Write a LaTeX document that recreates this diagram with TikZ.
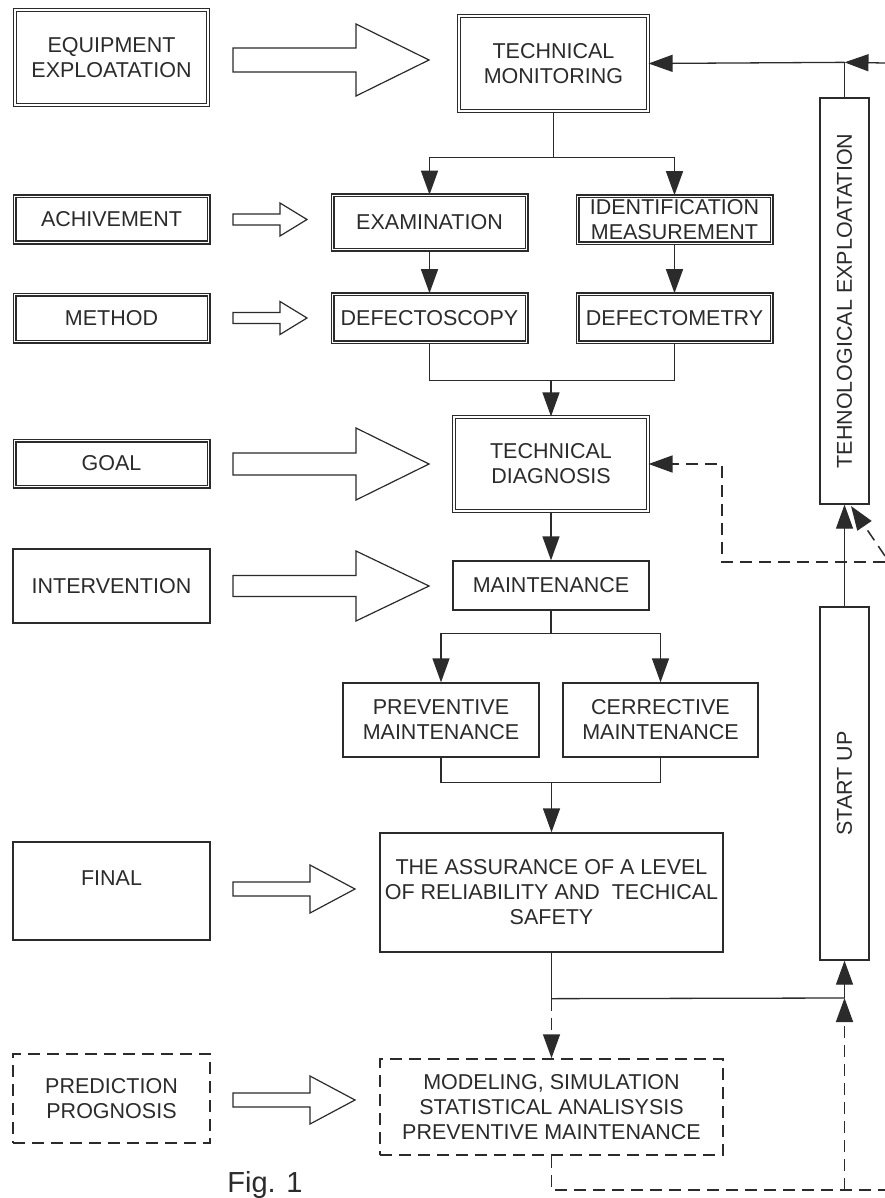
\documentclass[tikz,border=0pt]{standalone}
\usepackage{fontspec}
\setmainfont{Liberation Sans}
\usetikzlibrary{arrows.meta}

\definecolor{ink}{gray}{0.17}

\tikzset{
  box/.style={draw=ink, text=ink, line width=1.3pt, align=center, inner sep=0pt,
    font=\fontsize{21.5}{25}\selectfont},
  thinbox/.style={box},
  heavybox/.style={box, double, double distance=0.8pt, line width=1.6pt},
  dblbox/.style={box, double, double distance=2.6pt, line width=1.1pt},
  dashbox/.style={box, line width=1.5pt, dash pattern=on 12pt off 7pt},
  link/.style={draw=ink, line width=1.3pt},
  dlink/.style={link, line width=1.5pt, dash pattern=on 12pt off 7pt},
  blockarrow/.style={draw=ink, line width=1.2pt, line join=miter},
}

\begin{document}
\begin{tikzpicture}[>={Triangle[length=24pt,width=17pt]},x=1pt,y=-1pt]
\fill[white] (0,0) rectangle (885,1198);
\useasboundingbox (0,0) rectangle (885,1198);

% left column
\node[dblbox, minimum width=193pt, minimum height=95pt] (equip) at (111.5,57.5) {EQUIPMENT\\EXPLOATATION};
\node[heavybox, minimum width=194pt, minimum height=46pt] (achiv) at (111.5,219.5) {ACHIVEMENT};
\node[heavybox, minimum width=194pt, minimum height=47pt] (method) at (111.5,318) {METHOD};
\node[heavybox, minimum width=194pt, minimum height=46pt] (goal) at (111.5,463.5) {GOAL};
\node[thinbox, minimum width=197pt, minimum height=74pt] (interv) at (111.5,586) {INTERVENTION};
\node[thinbox, minimum width=197pt, minimum height=98pt, text depth=26pt] (final) at (111.5,891) {FINAL};
\node[dashbox, minimum width=197pt, minimum height=89pt] (pred) at (111.5,1098.5) {PREDICTION\\PROGNOSIS};
\node[text=ink, font=\fontsize{29}{34}\selectfont] (figcap) at (265,1185) {Fig. 1};

% middle column
\node[dblbox, minimum width=189pt, minimum height=95pt] (tmon) at (553.5,63.5) {TECHNICAL\\MONITORING};
\node[heavybox, minimum width=194pt, minimum height=54pt] (exam) at (429.5,222.5) {EXAMINATION};
\node[heavybox, minimum width=194pt, minimum height=47pt] (ident) at (674.5,219.5) {IDENTIFICATION\\MEASUREMENT};
\node[heavybox, minimum width=194pt, minimum height=48pt] (dscopy) at (429.5,318) {DEFECTOSCOPY};
\node[heavybox, minimum width=194pt, minimum height=48pt] (dmetry) at (674.5,318) {DEFECTOMETRY};
\node[dblbox, minimum width=194pt, minimum height=94pt] (tdiag) at (551,464) {TECHNICAL\\DIAGNOSIS};
\node[thinbox, minimum width=196pt, minimum height=49pt] (maint) at (551,585.5) {MAINTENANCE};
\node[thinbox, minimum width=196pt, minimum height=74pt] (prevm) at (441,720) {PREVENTIVE\\MAINTENANCE};
\node[thinbox, minimum width=195pt, minimum height=74pt] (corrm) at (660.5,720) {CERRECTIVE\\MAINTENANCE};
\node[thinbox, minimum width=343pt, minimum height=119pt] (assur) at (551.5,892.5) {THE ASSURANCE OF A LEVEL\\OF RELIABILITY AND\ \ TECHICAL\\SAFETY};
\node[dashbox, minimum width=343pt, minimum height=96pt] (model) at (551.5,1107) {MODELING, SIMULATION\\STATISTICAL ANALISYSIS\\PREVENTIVE MAINTENANCE};

% right column
\node[thinbox, minimum width=49pt, minimum height=406pt] (tehno) at (844.5,301) {\rotatebox{90}{TEHNOLOGICAL EXPLOATATION}};
\node[thinbox, minimum width=49pt, minimum height=353pt] (startup) at (844.5,783.5) {\rotatebox{90}{START UP}};

% hollow arrows
\draw[blockarrow] (233,48) -- (356,48) -- (356,24) -- (429,60) -- (356,96) -- (356,72) -- (233,72) -- cycle;
\draw[blockarrow] (233,214) -- (280,214) -- (280,203) -- (307,219.5) -- (280,236) -- (280,225) -- (233,225) -- cycle;
\draw[blockarrow] (233,312.5) -- (280,312.5) -- (280,301.5) -- (307,318) -- (280,334.5) -- (280,323.5) -- (233,323.5) -- cycle;
\draw[blockarrow] (233,453) -- (356,453) -- (356,428) -- (429,464) -- (356,500) -- (356,475) -- (233,475) -- cycle;
\draw[blockarrow] (233,575.5) -- (356,575.5) -- (356,551) -- (429,586) -- (356,621) -- (356,596.5) -- (233,596.5) -- cycle;
\draw[blockarrow] (233,882) -- (310,882) -- (310,865) -- (355,889) -- (310,913) -- (310,896) -- (233,896) -- cycle;
\draw[blockarrow] (233,1093) -- (310,1093) -- (310,1076) -- (355,1100) -- (310,1124) -- (310,1107) -- (233,1107) -- cycle;

% monitoring branch
\draw[link] (tmon.south) -- ++(0,46) coordinate (split1);
\draw[link,->] (split1) -| (exam.north);
\draw[link,->] (split1) -| (ident.north);
\draw[link,->] (exam) -- (dscopy);
\draw[link,->] (ident) -- (dmetry);
\draw[link] (dscopy.south) -- ++(0,38) -| (dmetry.south);
\coordinate (merge1) at (551,380);
\draw[link,->] (merge1) -- (tdiag.north);
\draw[link,->] (tdiag) -- (maint);

% maintenance branch
\draw[link] (maint.south) -- ++(0,23) coordinate (split2);
\draw[link,->] (split2) -| (prevm.north);
\draw[link,->] (split2) -| (corrm.north);
\draw[link] (prevm.south) -- ++(0,25) -| (corrm.south);
\coordinate (merge2) at (551.5,782);
\draw[link,->] (merge2) -- (assur.north);

% loop on the right
\draw[link] (assur.south) -- ++(0,46) coordinate (split3);
\coordinate (joinR) at (844.5,998);
\draw[link] (split3) -- (joinR);
\draw[link,->] (joinR) -- (startup.south);
\draw[dlink,->] (split3) -- (model.north);
\coordinate (loopC) at (844.5,1190);
\coordinate (loopR) at (885,1190);
\draw[dlink] (model.south) |- (loopR);
\draw[dlink,->] (loopC) -- (joinR);
\draw[link,->] (startup) -- (tehno);
\draw[link] (tehno.north) -- ++(0,-35) coordinate (topR);
\draw[link,->] (topR) -- (tmon.east);
\coordinate (edgeA) at (885,63);
\draw[link,->] (edgeA) -- (topR);
\coordinate (edgeB) at (885,562);
\coordinate (dcorner) at (722,562);
\draw[dlink,->] (edgeB) -- (dcorner) |- (tdiag.east);
\coordinate (edgeC) at (885,556);
\coordinate (tehnoIn) at (851,506);
\draw[dlink,->] (edgeC) -- (tehnoIn);
\end{tikzpicture}
\end{document}
